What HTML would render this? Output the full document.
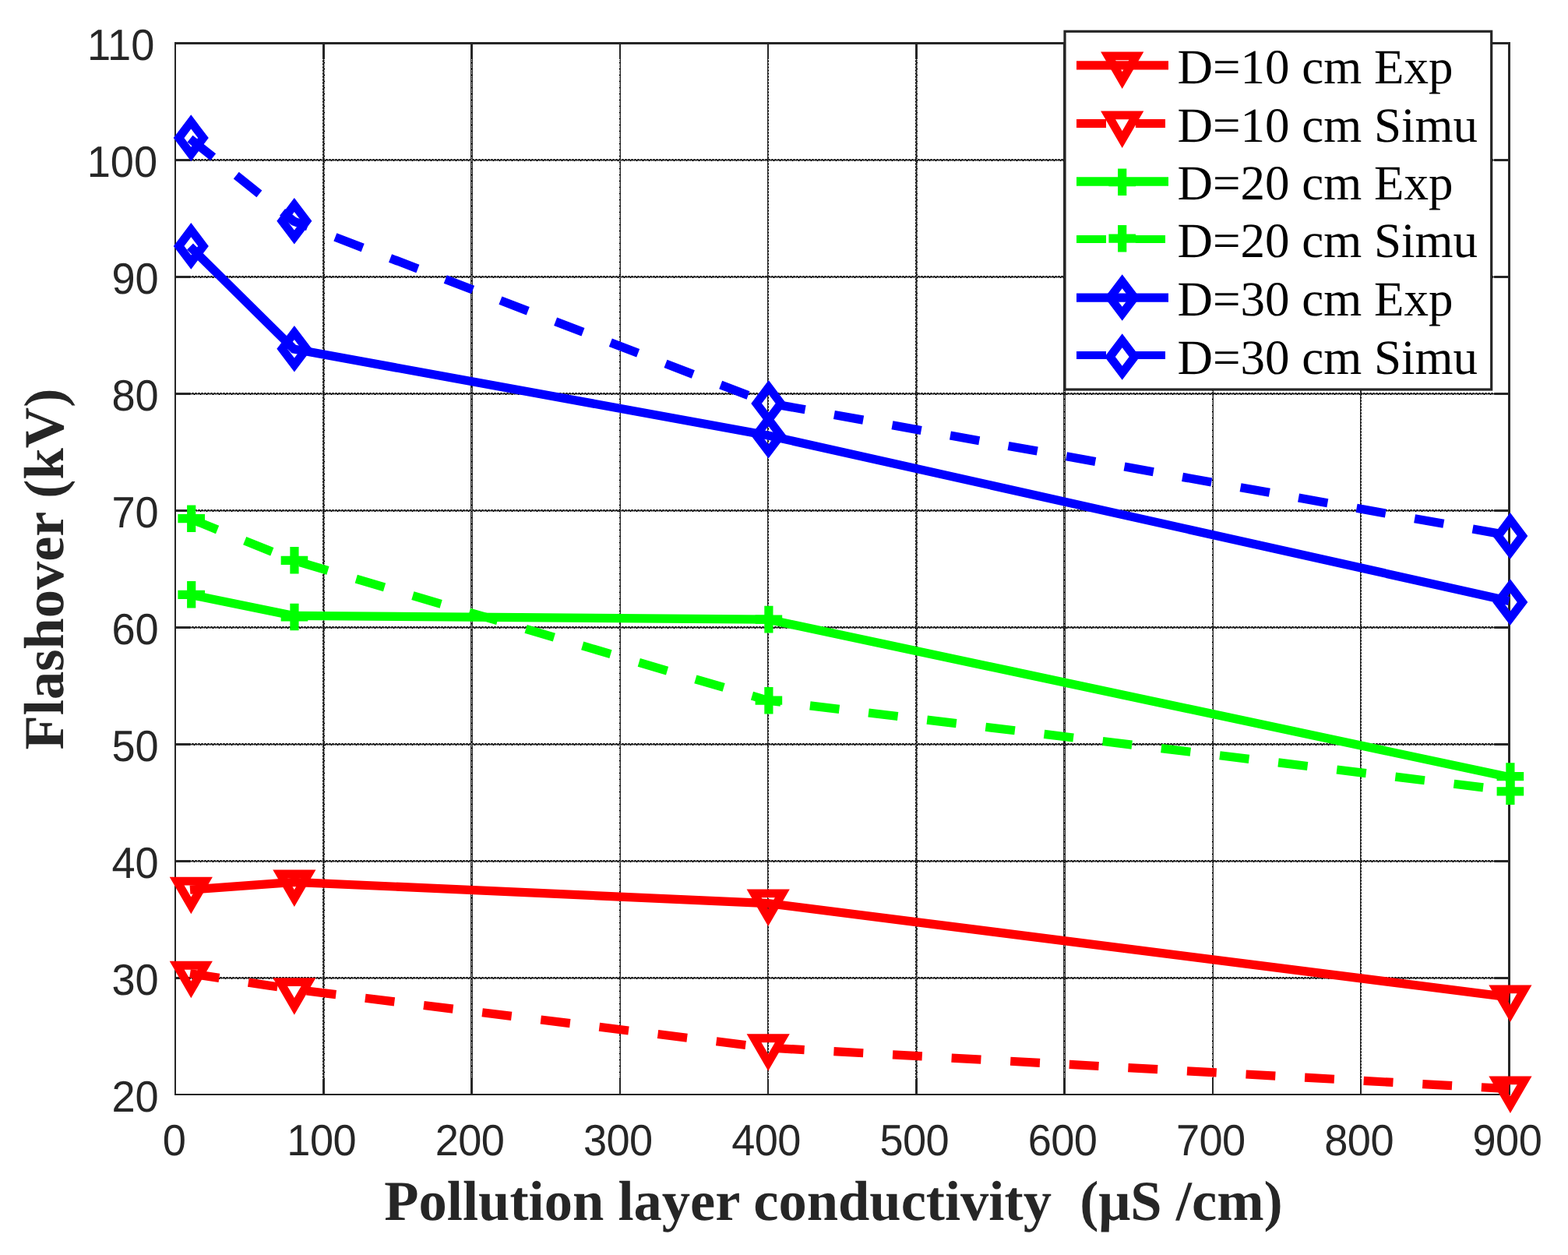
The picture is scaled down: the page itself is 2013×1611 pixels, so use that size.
<!DOCTYPE html>
<html lang="en"><head><meta charset="utf-8"><title>Flashover voltage vs pollution layer conductivity</title>
<style>
html,body{margin:0;padding:0;background:#fff;}
body{width:2013px;height:1611px;overflow:hidden;}
svg{display:block;}
text{text-rendering:geometricPrecision;}
.tick{font-family:"Liberation Sans",sans-serif;font-size:54.2px;fill:#262626;}
.axlab{font-family:"Liberation Serif",serif;font-weight:bold;font-size:72.5px;fill:#262626;}
.leg{font-family:"Liberation Serif",serif;font-size:63px;fill:#000;}
</style></head><body>
<svg width="2013" height="1611" viewBox="0 0 2013 1611" role="img" aria-label="Flashover voltage versus pollution layer conductivity">
<rect x="0" y="0" width="2013" height="1611" fill="#fff"/>
<g shape-rendering="crispEdges" stroke="#262626" stroke-width="1" fill="none">
<line x1="414.5" y1="57" x2="414.5" y2="1404" stroke-dasharray="3 1"/>
<line x1="415.5" y1="57" x2="415.5" y2="1404"/>
<line x1="416.5" y1="57" x2="416.5" y2="1404" stroke-dasharray="3 1 1 1 1 1" stroke-dashoffset="2"/>
<line x1="604.5" y1="57" x2="604.5" y2="1404"/>
<line x1="605.5" y1="57" x2="605.5" y2="1404" stroke-dasharray="3 1 1 1 1 1" stroke-dashoffset="2"/>
<line x1="606.5" y1="57" x2="606.5" y2="1404"/>
<line x1="795.5" y1="57" x2="795.5" y2="1404" stroke-dasharray="3 1 1 1 1 1" stroke-dashoffset="2"/>
<line x1="796.5" y1="57" x2="796.5" y2="1404"/>
<line x1="985.5" y1="57" x2="985.5" y2="1404"/>
<line x1="986.5" y1="57" x2="986.5" y2="1404" stroke-dasharray="3 1"/>
<line x1="1175.5" y1="57" x2="1175.5" y2="1404" stroke-dasharray="3 1"/>
<line x1="1176.5" y1="57" x2="1176.5" y2="1404"/>
<line x1="1177.5" y1="57" x2="1177.5" y2="1404" stroke-dasharray="3 1 1 1 1 1" stroke-dashoffset="2"/>
<line x1="1365.5" y1="57" x2="1365.5" y2="1404"/>
<line x1="1366.5" y1="57" x2="1366.5" y2="1404" stroke-dasharray="3 1 1 1 1 1" stroke-dashoffset="2"/>
<line x1="1367.5" y1="57" x2="1367.5" y2="1404"/>
<line x1="1556.5" y1="57" x2="1556.5" y2="1404" stroke-dasharray="3 1 1 1 1 1" stroke-dashoffset="2"/>
<line x1="1557.5" y1="57" x2="1557.5" y2="1404"/>
<line x1="1746.5" y1="57" x2="1746.5" y2="1404"/>
<line x1="1747.5" y1="57" x2="1747.5" y2="1404" stroke-dasharray="3 1"/>
<line x1="226" y1="1254.5" x2="1936" y2="1254.5" stroke-dasharray="3 1"/>
<line x1="226" y1="1255.5" x2="1936" y2="1255.5"/>
<line x1="226" y1="1256.5" x2="1936" y2="1256.5" stroke-dasharray="3 1 1 1 1 1" stroke-dashoffset="2"/>
<line x1="226" y1="1104.5" x2="1936" y2="1104.5" stroke-dasharray="3 1"/>
<line x1="226" y1="1105.5" x2="1936" y2="1105.5"/>
<line x1="226" y1="1106.5" x2="1936" y2="1106.5" stroke-dasharray="3 1 1 1 1 1" stroke-dashoffset="2"/>
<line x1="226" y1="954.5" x2="1936" y2="954.5" stroke-dasharray="3 1"/>
<line x1="226" y1="955.5" x2="1936" y2="955.5"/>
<line x1="226" y1="956.5" x2="1936" y2="956.5" stroke-dasharray="3 1 1 1 1 1" stroke-dashoffset="2"/>
<line x1="226" y1="804.5" x2="1936" y2="804.5" stroke-dasharray="3 1"/>
<line x1="226" y1="805.5" x2="1936" y2="805.5"/>
<line x1="226" y1="806.5" x2="1936" y2="806.5" stroke-dasharray="3 1 1 1 1 1" stroke-dashoffset="2"/>
<line x1="226" y1="654.5" x2="1936" y2="654.5" stroke-dasharray="3 1"/>
<line x1="226" y1="655.5" x2="1936" y2="655.5"/>
<line x1="226" y1="656.5" x2="1936" y2="656.5" stroke-dasharray="3 1 1 1 1 1" stroke-dashoffset="2"/>
<line x1="226" y1="504.5" x2="1936" y2="504.5" stroke-dasharray="3 1"/>
<line x1="226" y1="505.5" x2="1936" y2="505.5"/>
<line x1="226" y1="506.5" x2="1936" y2="506.5" stroke-dasharray="3 1 1 1 1 1" stroke-dashoffset="2"/>
<line x1="226" y1="354.5" x2="1936" y2="354.5" stroke-dasharray="3 1"/>
<line x1="226" y1="355.5" x2="1936" y2="355.5"/>
<line x1="226" y1="356.5" x2="1936" y2="356.5" stroke-dasharray="3 1 1 1 1 1" stroke-dashoffset="2"/>
<line x1="226" y1="204.5" x2="1936" y2="204.5" stroke-dasharray="3 1"/>
<line x1="226" y1="205.5" x2="1936" y2="205.5"/>
<line x1="226" y1="206.5" x2="1936" y2="206.5" stroke-dasharray="3 1 1 1 1 1" stroke-dashoffset="2"/>
</g>
<g shape-rendering="crispEdges" fill="#262626" stroke="none">
<rect x="414" y="1386" width="3" height="18"/>
<rect x="414" y="57" width="3" height="18"/>
<rect x="604" y="1386" width="3" height="18"/>
<rect x="604" y="57" width="3" height="18"/>
<rect x="795" y="1386" width="2" height="18"/>
<rect x="795" y="57" width="2" height="18"/>
<rect x="985" y="1386" width="2" height="18"/>
<rect x="985" y="57" width="2" height="18"/>
<rect x="1175" y="1386" width="3" height="18"/>
<rect x="1175" y="57" width="3" height="18"/>
<rect x="1365" y="1386" width="3" height="18"/>
<rect x="1365" y="57" width="3" height="18"/>
<rect x="1556" y="1386" width="2" height="18"/>
<rect x="1556" y="57" width="2" height="18"/>
<rect x="1746" y="1386" width="2" height="18"/>
<rect x="1746" y="57" width="2" height="18"/>
<rect x="226" y="1254" width="18" height="3"/>
<rect x="1919" y="1254" width="17" height="3"/>
<rect x="226" y="1104" width="18" height="3"/>
<rect x="1919" y="1104" width="17" height="3"/>
<rect x="226" y="954" width="18" height="3"/>
<rect x="1919" y="954" width="17" height="3"/>
<rect x="226" y="804" width="18" height="3"/>
<rect x="1919" y="804" width="17" height="3"/>
<rect x="226" y="654" width="18" height="3"/>
<rect x="1919" y="654" width="17" height="3"/>
<rect x="226" y="504" width="18" height="3"/>
<rect x="1919" y="504" width="17" height="3"/>
<rect x="226" y="354" width="18" height="3"/>
<rect x="1919" y="354" width="17" height="3"/>
<rect x="226" y="204" width="18" height="3"/>
<rect x="1919" y="204" width="17" height="3"/>
<rect x="224" y="54" width="2" height="1352"/>
<rect x="1936" y="54" width="3" height="1352"/>
<rect x="224" y="54" width="1715" height="3"/>
<rect x="224" y="1404" width="1715" height="2"/>
</g>
<g class="tick">
<text transform="translate(223.80 1482.9) scale(1 1.04)" text-anchor="middle">0</text>
<text transform="translate(412.68 1482.9) scale(1 1.04)" text-anchor="middle" letter-spacing="-0.6">100</text>
<text transform="translate(602.96 1482.9) scale(1 1.04)" text-anchor="middle" letter-spacing="-0.6">200</text>
<text transform="translate(793.23 1482.9) scale(1 1.04)" text-anchor="middle" letter-spacing="-0.6">300</text>
<text transform="translate(983.51 1482.9) scale(1 1.04)" text-anchor="middle" letter-spacing="-0.6">400</text>
<text transform="translate(1173.79 1482.9) scale(1 1.04)" text-anchor="middle" letter-spacing="-0.6">500</text>
<text transform="translate(1364.07 1482.9) scale(1 1.04)" text-anchor="middle" letter-spacing="-0.6">600</text>
<text transform="translate(1554.34 1482.9) scale(1 1.04)" text-anchor="middle" letter-spacing="-0.6">700</text>
<text transform="translate(1744.62 1482.9) scale(1 1.04)" text-anchor="middle" letter-spacing="-0.6">800</text>
<text transform="translate(1934.90 1482.9) scale(1 1.04)" text-anchor="middle" letter-spacing="-0.6">900</text>
<text transform="translate(203.75 1426.80) scale(1 1.04)" text-anchor="end">20</text>
<text transform="translate(203.75 1276.86) scale(1 1.04)" text-anchor="end">30</text>
<text transform="translate(203.75 1126.91) scale(1 1.04)" text-anchor="end">40</text>
<text transform="translate(203.75 976.97) scale(1 1.04)" text-anchor="end">50</text>
<text transform="translate(203.75 827.02) scale(1 1.04)" text-anchor="end">60</text>
<text transform="translate(203.75 677.08) scale(1 1.04)" text-anchor="end">70</text>
<text transform="translate(203.75 527.13) scale(1 1.04)" text-anchor="end">80</text>
<text transform="translate(203.75 377.19) scale(1 1.04)" text-anchor="end">90</text>
<text transform="translate(202.10 227.24) scale(1 1.04)" text-anchor="end">100</text>
<text transform="translate(198.40 77.30) scale(1 1.04)" text-anchor="end">110</text>
</g>
<text class="axlab" x="1070" y="1566" text-anchor="middle" xml:space="preserve" style="white-space:pre">Pollution layer conductivity  (μS /cm)</text>
<text class="axlab" transform="translate(80.5 730.6) rotate(-90)" text-anchor="middle">Flashover (kV)</text>
<path d="M244.00 1142.20L377.20 1132.30L986.10 1159.60L1937.30 1279.90" fill="none" stroke="#ff0000" stroke-width="11.2" stroke-linejoin="miter"/>
<path d="M227.17 1131.15L263.43 1131.15L245.30 1162.35Z" fill="none" stroke="#ff0000" stroke-width="10.9" stroke-linejoin="miter" stroke-miterlimit="10"/>
<path d="M359.72 1121.85L395.98 1121.85L377.85 1153.05Z" fill="none" stroke="#ff0000" stroke-width="10.9" stroke-linejoin="miter" stroke-miterlimit="10"/>
<path d="M968.07 1146.85L1004.33 1146.85L986.20 1178.05Z" fill="none" stroke="#ff0000" stroke-width="10.9" stroke-linejoin="miter" stroke-miterlimit="10"/>
<path d="M1920.77 1269.85L1957.03 1269.85L1938.90 1301.05Z" fill="none" stroke="#ff0000" stroke-width="10.9" stroke-linejoin="miter" stroke-miterlimit="10"/>
<path d="M244.00 1249.70L377.20 1270.00L986.10 1345.00L1937.30 1397.70" fill="none" stroke="#ff0000" stroke-width="11.2" stroke-linejoin="miter" stroke-dasharray="37.85 37.85"/>
<path d="M227.17 1239.25L263.43 1239.25L245.30 1270.45Z" fill="none" stroke="#ff0000" stroke-width="10.9" stroke-linejoin="miter" stroke-miterlimit="10"/>
<path d="M359.72 1260.65L395.98 1260.65L377.85 1291.85Z" fill="none" stroke="#ff0000" stroke-width="10.9" stroke-linejoin="miter" stroke-miterlimit="10"/>
<path d="M968.07 1332.75L1004.33 1332.75L986.20 1363.95Z" fill="none" stroke="#ff0000" stroke-width="10.9" stroke-linejoin="miter" stroke-miterlimit="10"/>
<path d="M1920.82 1386.90L1957.08 1386.90L1938.95 1418.10Z" fill="none" stroke="#ff0000" stroke-width="10.9" stroke-linejoin="miter" stroke-miterlimit="10"/>
<path d="M244.00 763.30L377.20 790.40L986.10 795.20L1937.30 997.50" fill="none" stroke="#00ff00" stroke-width="11.2" stroke-linejoin="miter"/>
<path d="M228.40 763.30H263.00M245.70 746.00V780.60" fill="none" stroke="#00ff00" stroke-width="11.2"/>
<path d="M360.65 792.00H395.25M377.95 774.70V809.30" fill="none" stroke="#00ff00" stroke-width="11.2"/>
<path d="M969.60 795.10H1004.20M986.90 777.80V812.40" fill="none" stroke="#00ff00" stroke-width="11.2"/>
<path d="M1921.60 996.60H1956.20M1938.90 979.30V1013.90" fill="none" stroke="#00ff00" stroke-width="11.2"/>
<path d="M244.00 665.80L377.20 719.50L986.10 899.30L1937.30 1014.90" fill="none" stroke="#00ff00" stroke-width="11.2" stroke-linejoin="miter" stroke-dasharray="37.85 37.85"/>
<path d="M228.40 665.70H263.00M245.70 648.40V683.00" fill="none" stroke="#00ff00" stroke-width="11.2"/>
<path d="M360.65 719.30H395.25M377.95 702.00V736.60" fill="none" stroke="#00ff00" stroke-width="11.2"/>
<path d="M969.60 899.20H1004.20M986.90 881.90V916.50" fill="none" stroke="#00ff00" stroke-width="11.2"/>
<path d="M1921.60 1015.80H1956.20M1938.90 998.50V1033.10" fill="none" stroke="#00ff00" stroke-width="11.2"/>
<path d="M244.00 316.50L377.20 448.00L986.10 559.00L1937.30 771.50" fill="none" stroke="#0000ff" stroke-width="11.2" stroke-linejoin="miter"/>
<path d="M245.30 295.15L261.00 315.90L245.30 336.65L229.60 315.90Z" fill="none" stroke="#0000ff" stroke-width="10.9" stroke-linejoin="miter" stroke-miterlimit="10"/>
<path d="M377.90 427.05L393.60 447.80L377.90 468.55L362.20 447.80Z" fill="none" stroke="#0000ff" stroke-width="10.9" stroke-linejoin="miter" stroke-miterlimit="10"/>
<path d="M986.50 537.95L1002.20 558.70L986.50 579.45L970.80 558.70Z" fill="none" stroke="#0000ff" stroke-width="10.9" stroke-linejoin="miter" stroke-miterlimit="10"/>
<path d="M1938.80 752.25L1954.50 773.00L1938.80 793.75L1923.10 773.00Z" fill="none" stroke="#0000ff" stroke-width="10.9" stroke-linejoin="miter" stroke-miterlimit="10"/>
<path d="M244.00 178.10L377.20 284.00L986.10 517.30L1937.30 687.30" fill="none" stroke="#0000ff" stroke-width="11.2" stroke-linejoin="miter" stroke-dasharray="37.85 37.85"/>
<path d="M245.25 156.35L260.95 177.10L245.25 197.85L229.55 177.10Z" fill="none" stroke="#0000ff" stroke-width="10.9" stroke-linejoin="miter" stroke-miterlimit="10"/>
<path d="M377.85 262.95L393.55 283.70L377.85 304.45L362.15 283.70Z" fill="none" stroke="#0000ff" stroke-width="10.9" stroke-linejoin="miter" stroke-miterlimit="10"/>
<path d="M986.80 497.15L1002.50 517.90L986.80 538.65L971.10 517.90Z" fill="none" stroke="#0000ff" stroke-width="10.9" stroke-linejoin="miter" stroke-miterlimit="10"/>
<path d="M1938.80 667.15L1954.50 687.90L1938.80 708.65L1923.10 687.90Z" fill="none" stroke="#0000ff" stroke-width="10.9" stroke-linejoin="miter" stroke-miterlimit="10"/>
<rect x="1367" y="40.3" width="547.7" height="459.7" fill="#fff" stroke="#262626" stroke-width="3.2"/>
<path d="M1382 83.90H1500" fill="none" stroke="#ff0000" stroke-width="11.2"/>
<path d="M1422.57 71.85L1458.83 71.85L1440.70 103.05Z" fill="none" stroke="#ff0000" stroke-width="10.9" stroke-linejoin="miter" stroke-miterlimit="10"/>
<text class="leg" x="1511.5" y="107.0">D=10 cm Exp</text>
<path d="M1382 158.50H1420M1457.9 158.50H1496" fill="none" stroke="#ff0000" stroke-width="11"/>
<path d="M1422.57 147.85L1458.83 147.85L1440.70 179.05Z" fill="none" stroke="#ff0000" stroke-width="10.9" stroke-linejoin="miter" stroke-miterlimit="10"/>
<text class="leg" x="1511.5" y="182.0">D=10 cm Simu</text>
<path d="M1382 233.00H1500" fill="none" stroke="#00ff00" stroke-width="11.4"/>
<path d="M1423.40 233.70H1458.00M1440.70 216.40V251.00" fill="none" stroke="#00ff00" stroke-width="11.2"/>
<text class="leg" x="1511.5" y="255.6">D=20 cm Exp</text>
<path d="M1382 307.00H1420M1457.9 307.00H1496" fill="none" stroke="#00ff00" stroke-width="9.8"/>
<path d="M1423.40 306.20H1458.00M1440.70 288.90V323.50" fill="none" stroke="#00ff00" stroke-width="11.2"/>
<text class="leg" x="1511.5" y="330.4">D=20 cm Simu</text>
<path d="M1382 382.10H1500" fill="none" stroke="#0000ff" stroke-width="11.1"/>
<path d="M1440.70 361.25L1456.40 382.00L1440.70 402.75L1425.00 382.00Z" fill="none" stroke="#0000ff" stroke-width="10.9" stroke-linejoin="miter" stroke-miterlimit="10"/>
<text class="leg" x="1511.5" y="404.5">D=30 cm Exp</text>
<path d="M1382 456.00H1420M1457.9 456.00H1496" fill="none" stroke="#0000ff" stroke-width="9.8"/>
<path d="M1440.70 437.25L1456.40 458.00L1440.70 478.75L1425.00 458.00Z" fill="none" stroke="#0000ff" stroke-width="10.9" stroke-linejoin="miter" stroke-miterlimit="10"/>
<text class="leg" x="1511.5" y="479.5">D=30 cm Simu</text>
</svg>
</body></html>
